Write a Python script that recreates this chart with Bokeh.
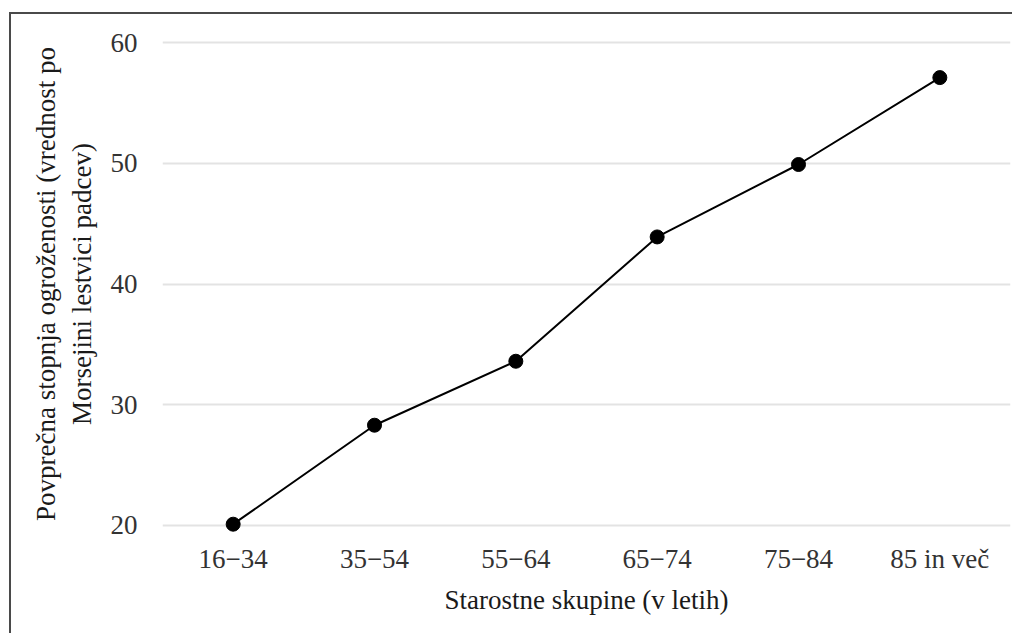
from bokeh.plotting import figure
from bokeh.models import FactorRange, Range1d, FixedTicker
from bokeh.embed import file_html
from bokeh.resources import INLINE

categories = ["16−34", "35−54", "55−64", "65−74", "75−84", "85 in več"]
values = [20.1, 28.3, 33.6, 43.9, 49.9, 57.1]
y_ticks = [20, 30, 40, 50, 60]

FONT = "Liberation Serif"

p = figure(
    x_range=FactorRange(*categories, range_padding=0),
    y_range=Range1d(18.5, 61.5),
    width=1003, height=621,
    output_backend="svg", toolbar_location=None,
    min_border_left=151, min_border_right=4,
    min_border_top=10, min_border_bottom=92,
)
p.styles = {"border-top": "2px solid #4a4a4a", "border-left": "2px solid #4a4a4a",
            "margin-top": "12px", "margin-left": "9px"}
p.outline_line_color = None
p.background_fill_color = "white"
p.border_fill_color = "white"

p.line(categories, values, line_color="black", line_width=2)
p.scatter(categories, values, size=14, fill_color="black", line_color="black")

p.yaxis.ticker = FixedTicker(ticks=y_ticks)
p.xgrid.grid_line_color = None
p.ygrid.grid_line_color = "#e3e3e3"
p.ygrid.grid_line_width = 2

for ax in (p.xaxis[0], p.yaxis[0]):
    ax.axis_line_color = None
    ax.major_tick_line_color = None
    ax.minor_tick_line_color = None
    ax.major_tick_out = 0
    ax.major_tick_in = 0
    ax.major_label_text_font = FONT
    ax.major_label_text_font_size = "27px"
    ax.major_label_text_color = "#333333"
    ax.axis_label_text_font = FONT
    ax.axis_label_text_font_size = "27px"
    ax.axis_label_text_font_style = "normal"
    ax.axis_label_text_color = "#1a1a1a"

p.yaxis.major_label_standoff = 25
p.xaxis.major_label_standoff = 0
p.xaxis.axis_label = "Starostne skupine (v letih)"
p.yaxis.axis_label = "Povprečna stopnja ogroženosti (vrednost po\nMorsejini lestvici padcev)"
p.xaxis.axis_label_standoff = 8
p.yaxis.axis_label_standoff = 11

open("out.html", "w").write(file_html(p, INLINE))
